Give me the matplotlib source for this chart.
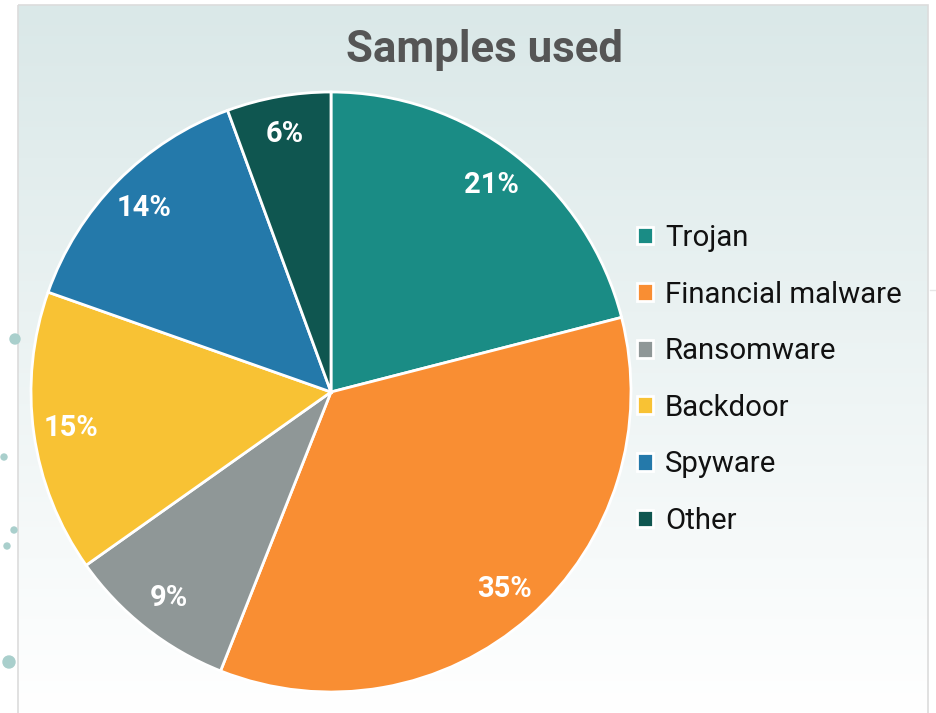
import numpy as np
import matplotlib.pyplot as plt
from matplotlib.patches import Rectangle

labels = ['Trojan', 'Financial malware', 'Ransomware', 'Backdoor', 'Spyware', 'Other']
shares = [21.0, 35.0, 9.2, 15.2, 14.0, 5.6]
colors = ['#1a8c85', '#f98e33', '#8f9797', '#f8c234', '#2479aa', '#0f5650']
title = 'Samples used'

plt.rcParams['font.family'] = ['Roboto', 'DejaVu Sans']

W, H = 937, 713
fig = plt.figure(figsize=(W / 100, H / 100), dpi=100)
fig.patch.set_facecolor('white')

# background panel with vertical gradient
bg = fig.add_axes([0, 0, 1, 1], zorder=0)
bg.set_xlim(0, W)
bg.set_ylim(H, 0)
bg.axis('off')
grad = np.linspace(0, 1, 256).reshape(-1, 1)
top = np.array([0.855, 0.910, 0.910])
bot = np.array([1.0, 1.0, 1.0])
img = top + (bot - top) * grad[..., None] * np.ones((1, 1, 3))
bg.imshow(img, extent=[18, 928, 713, 5], aspect='auto', zorder=1)
bg.add_patch(Rectangle((18, 5), 910, 720, fill=False, edgecolor='#dcdcdc', lw=1.2, zorder=2))
bg.plot([930, 937], [290, 290], color='#e6e6e6', lw=1, zorder=2)
# decorative dots on the left
for (x, y, s) in [(15, 339, 5), (4, 457, 3), (14, 530, 3), (7, 546, 3), (9, 662, 6)]:
    bg.add_patch(plt.Circle((x, y), s, color='#a9cfcc', zorder=2))

ax = fig.add_axes([31 / W, 21 / H, 600 / W, 600 / H], zorder=3)
wedges, texts, autotexts = ax.pie(
    shares, colors=colors, startangle=90, counterclock=False,
    autopct='%.0f%%', pctdistance=0.875, radius=1,
    wedgeprops=dict(edgecolor='white', linewidth=2),
    textprops=dict(color='white', fontsize=21, fontweight='bold'))
ax.set_xlim(-1, 1)
ax.set_ylim(-1, 1)
ax.set_aspect('equal')

fig.text(484 / W, 1 - 50 / H, title, ha='center', va='center',
         fontsize=31.5, fontweight='bold', color='#555555', zorder=4)

leg = fig.legend(wedges, labels, loc='upper left', bbox_to_anchor=(637 / W, 1 - 224 / H),
                 frameon=False, fontsize=21.2, handlelength=0.55, handleheight=0.55,
                 handletextpad=0.4, labelspacing=0.97, borderpad=0, borderaxespad=0)
for t in leg.get_texts():
    t.set_color('#111111')
for h in leg.legend_handles:
    h.set_edgecolor('white')

fig.savefig('out.png', dpi=100)
